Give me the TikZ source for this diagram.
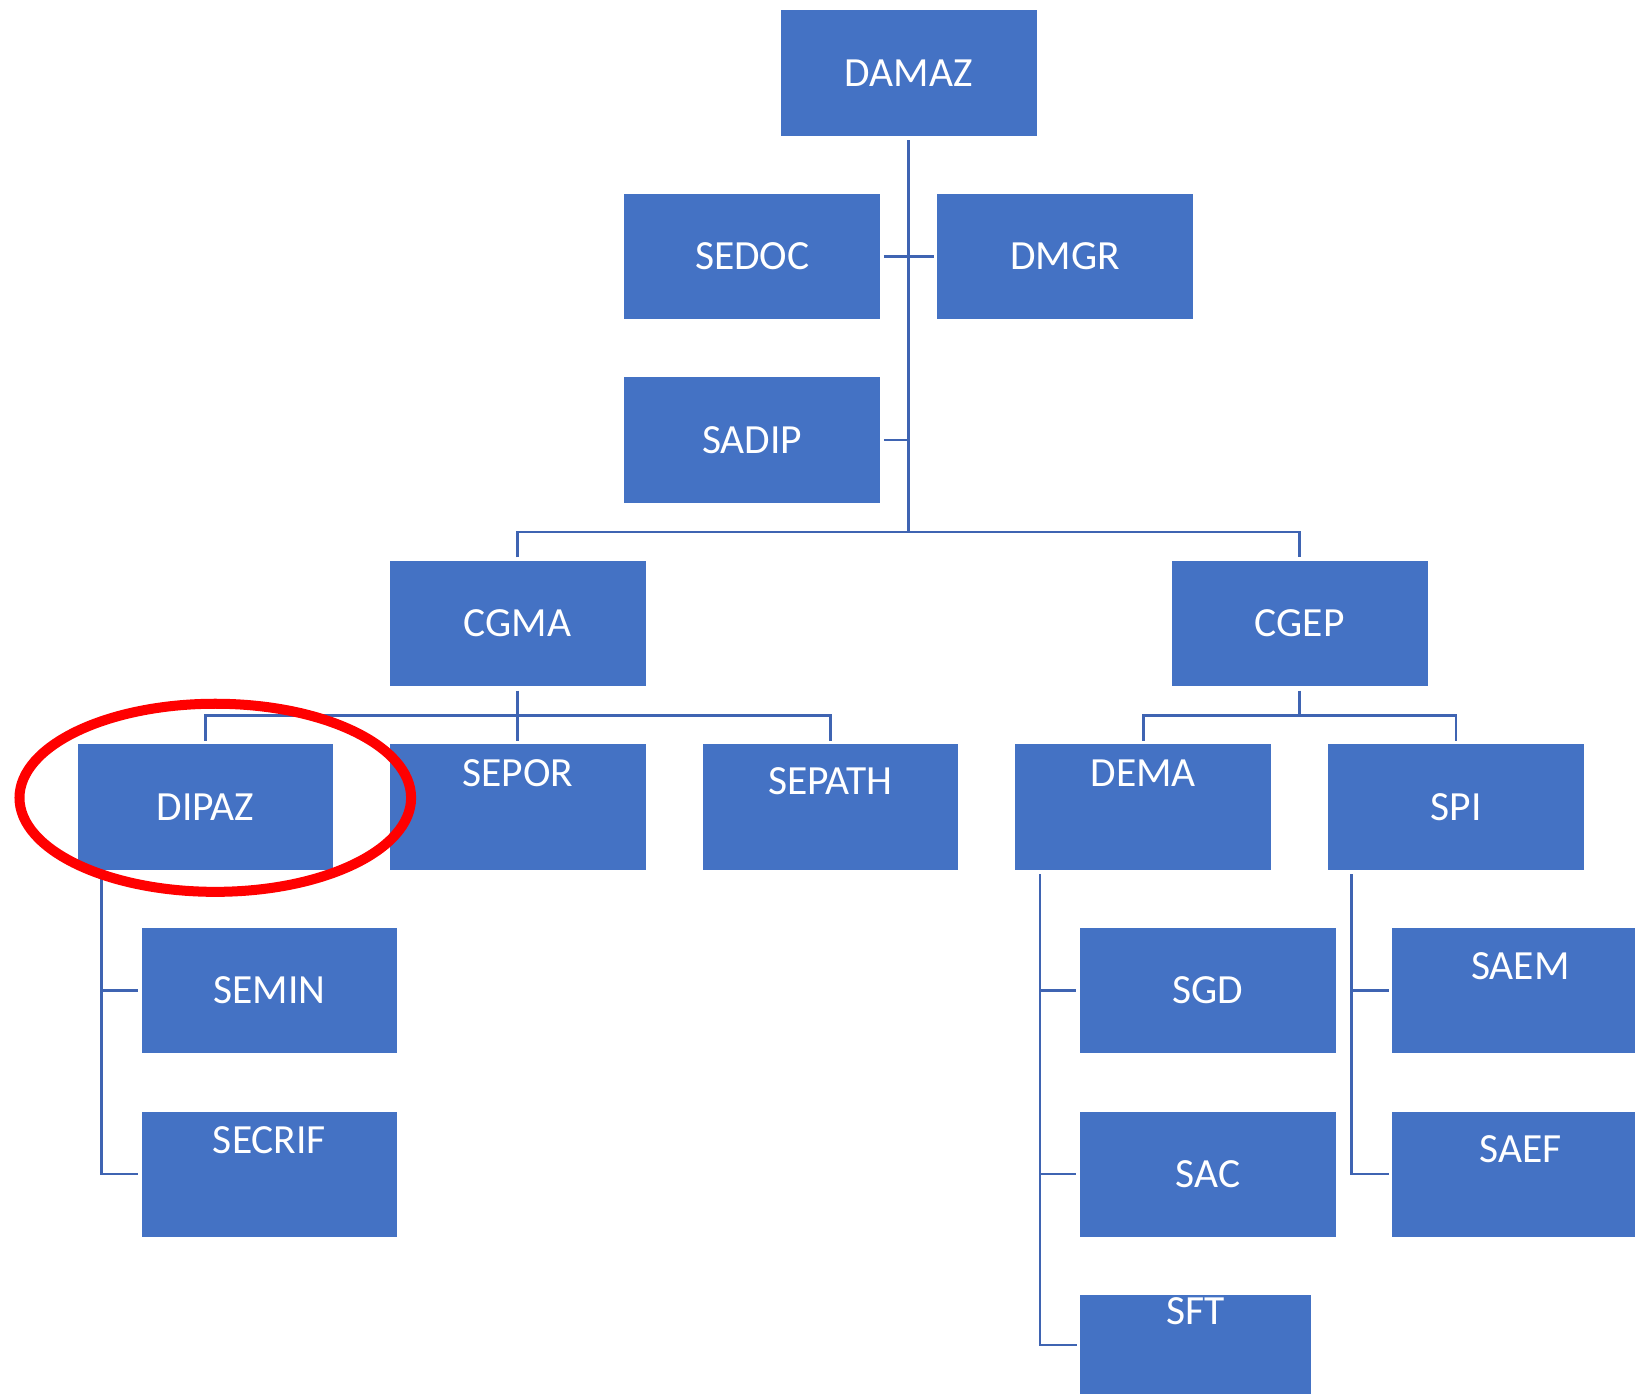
\documentclass[tikz,border=0pt]{standalone}
\usepackage{fontspec}
\setmainfont{Carlito}
\definecolor{boxblue}{HTML}{4472C4}
\definecolor{linkblue}{RGB}{63,100,178}
\tikzset{
  unit/.style={rectangle, fill=boxblue, text=white, inner sep=0pt,
               minimum width=2.555cm, minimum height=1.25cm,
               font=\fontsize{11.8}{14}\selectfont},
  toptext/.style 2 args={label={[text=white, anchor=center, yshift=-#1,
               font=\fontsize{11.8}{14}\selectfont]north:#2}},
  link/.style={draw=linkblue, line width=0.7pt}
}

\begin{document}
\begin{tikzpicture}[x=0.01cm, y=-0.01cm]
\useasboundingbox (0,0) rectangle (1635,1394);

% level 0
\node[unit] (damaz) at (908.7,73.0) {DAMAZ};

% staff
\node[unit] (sedoc) at (752.3,256.5) {SEDOC};
\node[unit] (dmgr)  at (1065.1,256.5) {DMGR};
\node[unit] (sadip) at (752.3,440.0) {SADIP};

% level 1
\node[unit] (cgma) at (517.7,623.5) {CGMA};
\node[unit] (cgep) at (1299.7,623.5) {CGEP};

% level 2
\node[unit] (dipaz)  at (205.4,807.0) {DIPAZ};
\node[unit, toptext={0.292cm}{SEPOR}] (sepor) at (517.7,807.0) {};
\node[unit, toptext={0.375cm}{SEPATH}] (sepath) at (830.5,807.0) {};
\node[unit, toptext={0.292cm}{DEMA}] (dema) at (1143.3,807.0) {};
\node[unit] (spi) at (1456.1,807.0) {SPI};

% level 3
\node[unit] (semin) at (269.5,990.6) {SEMIN};
\node[unit, toptext={0.292cm}{SECRIF}] (secrif) at (269.5,1174.1) {};
\node[unit] (sgd) at (1208.0,990.6) {SGD};
\node[unit] (sac) at (1208.0,1174.1) {SAC};
\node[unit, minimum width=2.304cm, minimum height=1.0cm,
      toptext={0.167cm}{SFT}] (sft) at (1195.5,1345.0) {};
\node[unit, toptext={0.386cm}{SAEM}] (saem) at (1520.3,990.6) {};
\node[unit, toptext={0.386cm}{SAEF}] (saef) at (1520.3,1174.1) {};

% connectors
\coordinate (hub) at (909.2,531.8);
\coordinate (cgmabus) at (517.7,715.3);
\coordinate (cgepbus) at (1299.7,715.3);

\draw[link] ([yshift=-0.04cm]damaz.south) -- (damaz.south |- hub);
\draw[link] ([xshift=0.03cm]sedoc.east) -- ([xshift=-0.03cm]dmgr.west);
\draw[link] ([xshift=0.03cm]sadip.east) -- (sadip.east -| hub);
\draw[link] ([yshift=0.03cm]cgma.north) |- (hub) -| ([yshift=0.03cm]cgep.north);

\draw[link] ([yshift=-0.04cm]cgma.south) -- (cgmabus);
\draw[link] ([yshift=0.03cm]dipaz.north) |- (cgmabus) -| ([yshift=0.03cm]sepath.north);
\draw[link] (cgmabus) -- ([yshift=0.03cm]sepor.north);

\draw[link] ([yshift=-0.04cm]cgep.south) -- (cgepbus);
\draw[link] ([yshift=0.03cm]dema.north) |- (cgepbus) -| ([yshift=0.03cm]spi.north);

\draw[link] ([xshift=0.245cm, yshift=-0.04cm]dipaz.south west) |- ([xshift=-0.03cm]semin.west);
\draw[link] ([xshift=0.245cm, yshift=-0.04cm]dipaz.south west) |- ([xshift=-0.03cm]secrif.west);

\draw[link] ([xshift=0.25cm, yshift=-0.04cm]dema.south west) |- ([xshift=-0.03cm]sgd.west);
\draw[link] ([xshift=0.25cm, yshift=-0.04cm]dema.south west) |- ([xshift=-0.03cm]sac.west);
\draw[link] ([xshift=0.25cm, yshift=-0.04cm]dema.south west) |- ([xshift=-0.03cm]sft.west);

\draw[link] ([xshift=0.24cm, yshift=-0.04cm]spi.south west) |- ([xshift=-0.03cm]saem.west);
\draw[link] ([xshift=0.24cm, yshift=-0.04cm]spi.south west) |- ([xshift=-0.03cm]saef.west);

% highlight
\draw[red, line width=0.1cm] (215.3,797.8) ellipse [x radius=1.957cm, y radius=0.94cm];
\end{tikzpicture}
\end{document}
